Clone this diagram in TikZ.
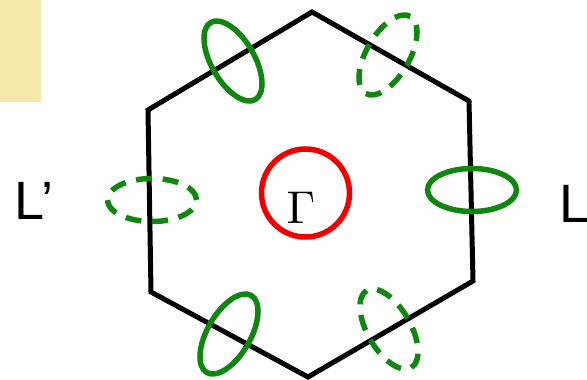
\documentclass[tikz,border=0pt]{standalone}
\usepackage{fontspec}
\usepackage{amsmath}
\usetikzlibrary{shapes.geometric, positioning}
\newfontfamily\labelfont{Liberation Sans}
\definecolor{pocketGreen}{HTML}{0F870F}
\definecolor{gammaRed}{HTML}{F00000}
\definecolor{patchYellow}{HTML}{F3E9AA}

\begin{document}
\begin{tikzpicture}[x=1pt, y=-1pt,
    pocket/.style={draw=pocketGreen, ellipse, line width=5.5pt, inner sep=0pt,
      minimum width=89pt, minimum height=43pt},
    ghost/.style={pocket, dash pattern=on 16pt off 10.7pt},
    kpoint/.style={inner sep=0pt, anchor=base west, font=\labelfont\fontsize{54}{54}\selectfont}]
    \useasboundingbox (0,0) rectangle (587,380);
    \fill[patchYellow] (0,0) rectangle (41,102);

    % zone boundary
    \coordinate (top) at (312,12);
    \coordinate (upright) at (469,101);
    \coordinate (lowright) at (473,281);
    \coordinate (bottom) at (308,377);
    \coordinate (lowleft) at (151,292);
    \coordinate (upleft) at (148,110);
    \draw[line width=5pt, line join=miter] (top) -- (upright) -- (lowright) -- (bottom)
      -- (lowleft) -- (upleft) -- cycle;

    \node[draw=gammaRed, circle, line width=5.5pt, minimum size=88pt, inner sep=0pt] (gring) at (305.5,193) {};
    \node[inner sep=0pt, scale=4.6] (gamma) at (301,208) {$\Gamma$};

    % pockets at the zone edges
    \node[pocket] (pR) at (472,190) {};
    \node[ghost] (pL) at (152,200) {};
    \node[pocket, rotate=-60] (pUL) at (233,61) {};
    \node[ghost, rotate=60] (pUR) at (388,55) {};
    \node[pocket, rotate=60] (pLL) at (229,334) {};
    \node[ghost, rotate=-60] (pLR) at (389,329) {};

    \node[kpoint] (Lp) at (14,219) {L’};
    \node[kpoint] (L) at (559,222) {L};
  \end{tikzpicture}
\end{document}
